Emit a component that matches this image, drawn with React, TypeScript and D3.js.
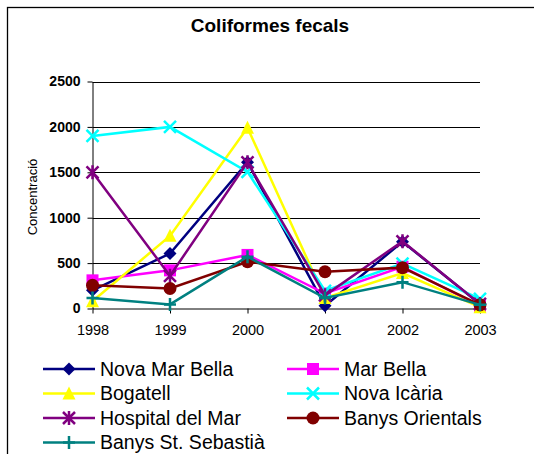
import { useEffect, useRef } from "react";
import * as d3 from "d3";

const years = ["1998", "1999", "2000", "2001", "2002", "2003"];
const yTicks = [0, 500, 1000, 1500, 2000, 2500];

const novaMarBella = [200, 605, 1610, 30, 735, 50];
const marBella = [310, 420, 590, 165, 460, 30];
const bogatell = [80, 800, 1990, 115, 390, 15];
const novaIcaria = [1900, 2000, 1505, 195, 495, 105];
const hospitalDelMar = [1500, 360, 1610, 145, 740, 50];
const banysOrientals = [255, 220, 515, 405, 450, 40];
const banysStSebastia = [115, 45, 570, 115, 290, 40];

type Series = { name: string; values: number[]; color: string; marker: string };

const series: Series[] = [
	{ name: "Nova Mar Bella", values: novaMarBella, color: "#000080", marker: "diamond" },
	{ name: "Mar Bella", values: marBella, color: "#ff00ff", marker: "square" },
	{ name: "Bogatell", values: bogatell, color: "#ffff00", marker: "triangle" },
	{ name: "Nova Icària", values: novaIcaria, color: "#00ffff", marker: "x" },
	{ name: "Hospital del Mar", values: hospitalDelMar, color: "#800080", marker: "star" },
	{ name: "Banys Orientals", values: banysOrientals, color: "#800000", marker: "circle" },
	{ name: "Banys St. Sebastià", values: banysStSebastia, color: "#008080", marker: "plus" },
];

const FONT = "'Liberation Sans', Arial, sans-serif";

// draws one marker centred at (cx, cy)
function drawMarker(g: d3.Selection<SVGGElement, unknown, null, undefined>, kind: string, cx: number, cy: number, color: string) {
	const m = g.append("g").attr("transform", `translate(${cx},${cy})`);
	const s = 6;
	if (kind === "diamond") {
		m.append("path").attr("d", `M0,${-s - 0.5}L${s + 0.5},0L0,${s + 0.5}L${-s - 0.5},0Z`).attr("fill", color);
	} else if (kind === "square") {
		m.append("rect").attr("x", -s).attr("y", -s).attr("width", 2 * s).attr("height", 2 * s).attr("fill", color);
	} else if (kind === "triangle") {
		m.append("path").attr("d", `M0,${-s - 1}L${s + 0.5},${s}L${-s - 0.5},${s}Z`).attr("fill", color);
	} else if (kind === "x") {
		m.append("path").attr("d", `M${-s},${-s}L${s},${s}M${s},${-s}L${-s},${s}`)
			.attr("stroke", color).attr("stroke-width", 2.5).attr("fill", "none");
	} else if (kind === "star") {
		m.append("path").attr("d", `M${-s},${-s}L${s},${s}M${s},${-s}L${-s},${s}M0,${-s - 1}L0,${s + 1}`)
			.attr("stroke", color).attr("stroke-width", 2.5).attr("fill", "none");
	} else if (kind === "circle") {
		m.append("circle").attr("r", s + 0.5).attr("fill", color);
	} else if (kind === "plus") {
		m.append("path").attr("d", `M${-s},0L${s},0M0,${-s - 0.5}L0,${s + 0.5}`)
			.attr("stroke", color).attr("stroke-width", 2.5).attr("fill", "none");
	}
}

export default function App() {
	const ref = useRef<SVGSVGElement>(null);

	useEffect(() => {
		const svg = d3.select(ref.current);
		svg.selectAll("*").remove();

		// outer frame (runs off the right and bottom edges)
		svg.append("rect")
			.attr("x", 7.5).attr("y", 7.5)
			.attr("width", 600).attr("height", 600)
			.attr("fill", "white")
			.attr("stroke", "#000")
			.attr("stroke-width", 1.3);

		svg.append("text")
			.attr("x", 270).attr("y", 25)
			.attr("dy", "0.35em")
			.attr("text-anchor", "middle")
			.attr("font-family", FONT)
			.attr("font-size", "19px")
			.attr("font-weight", "bold")
			.text("Coliformes fecals");

		const x = d3.scalePoint().domain(years).range([92.5, 480]);
		const y = d3.scaleLinear().domain([0, 2500]).range([308.5, 81.5]);

		// gridlines
		svg.append("g").selectAll("line")
			.data(yTicks.filter(t => t > 0))
			.enter().append("line")
			.attr("x1", 92.5).attr("x2", 480)
			.attr("y1", d => Math.round(y(d)) + 0.5)
			.attr("y2", d => Math.round(y(d)) + 0.5)
			.attr("stroke", "#000")
			.attr("stroke-width", 1);

		// y axis
		const yAxis = svg.append("g")
			.attr("transform", "translate(92.5,0)")
			.call(d3.axisLeft(y).tickValues(yTicks).tickFormat(d3.format("d")).tickSize(5).tickSizeOuter(0).tickPadding(7));
		yAxis.select(".domain").attr("stroke", "#000");
		yAxis.selectAll("text")
			.attr("font-family", FONT)
			.attr("font-size", "14px")
			.attr("font-weight", "bold")
			.attr("fill", "#000");

		// x axis
		const xAxis = svg.append("g")
			.attr("transform", "translate(0,308.5)")
			.call(d3.axisBottom(x).tickSize(5).tickSizeOuter(0).tickPadding(11));
		xAxis.select(".domain").attr("stroke", "#000");
		xAxis.selectAll("text")
			.attr("font-family", FONT)
			.attr("font-size", "14.5px")
			.attr("fill", "#000");

		svg.append("text")
			.attr("transform", "translate(32,197) rotate(-90)")
			.attr("dy", "0.35em")
			.attr("text-anchor", "middle")
			.attr("font-family", FONT)
			.attr("font-size", "13px")
			.text("Concentració");

		const line = d3.line<number>()
			.x((_, i) => x(years[i])!)
			.y(d => y(d));

		series.forEach(s => {
			const g = svg.append("g");
			g.append("path")
				.attr("d", line(s.values)!)
				.attr("fill", "none")
				.attr("stroke", s.color)
				.attr("stroke-width", 2.5);
			s.values.forEach((v, i) => drawMarker(g as any, s.marker, x(years[i])!, y(v), s.color));
		});

		// legend
		const legend = svg.append("g");
		const cols = [43, 287];
		const rowY = [369, 393.5, 418, 442.5];
		series.forEach((s, i) => {
			const cx = cols[i % 2];
			const cy = rowY[Math.floor(i / 2)];
			const row = legend.append("g");
			row.append("line")
				.attr("x1", cx).attr("x2", cx + 52)
				.attr("y1", cy).attr("y2", cy)
				.attr("stroke", s.color)
				.attr("stroke-width", 2.5);
			drawMarker(row as any, s.marker, cx + 26, cy, s.color);
			row.append("text")
				.attr("x", cx + 57).attr("y", cy)
				.attr("dy", "0.35em")
				.attr("font-family", FONT)
				.attr("font-size", "19.5px")
				.text(s.name);
		});
	}, []);

	return (
		<svg
			ref={ref}
			width={534}
			height={454}
			style={{ position: "absolute", left: 0, top: 0, background: "white" }}
		/>
	);
}
